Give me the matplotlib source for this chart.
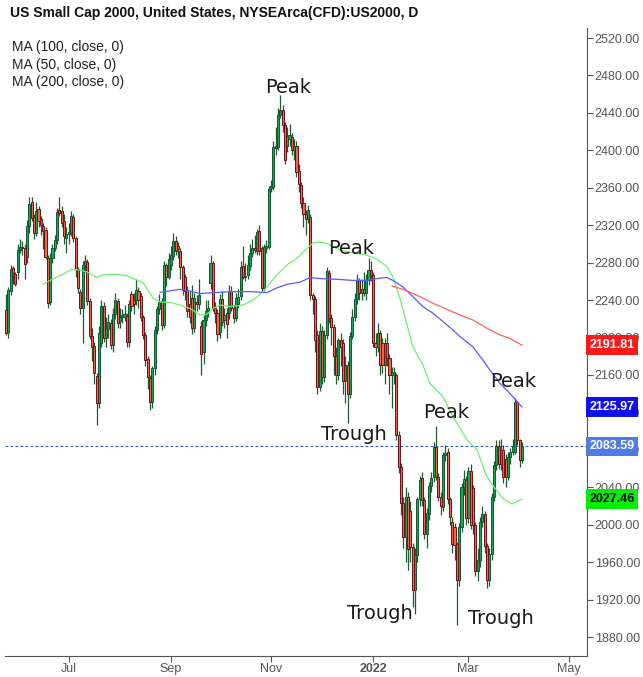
import matplotlib.pyplot as plt
import numpy as np

# daily candles, oldest first
opens = [
    2229, 2206, 2250, 2274, 2268, 2270, 2294, 2297, 2296, 2286,
    2319, 2345, 2329, 2312, 2337, 2327, 2319, 2315, 2285, 2238,
    2285, 2296, 2304, 2336, 2335, 2324, 2306, 2311, 2312, 2329,
    2306, 2273, 2249, 2231, 2278, 2281, 2239, 2202, 2191, 2159,
    2130, 2194, 2234, 2200, 2209, 2216, 2192, 2225, 2239, 2218,
    2222, 2222, 2223, 2195, 2247, 2240, 2240, 2250, 2244, 2222,
    2203, 2177, 2157, 2131, 2167, 2208, 2230, 2239, 2213, 2277,
    2265, 2277, 2287, 2303, 2298, 2292, 2275, 2265, 2251, 2236,
    2242, 2210, 2238, 2236, 2212, 2184, 2219, 2228, 2258, 2280,
    2232, 2226, 2206, 2241, 2219, 2226, 2226, 2250, 2232, 2221,
    2236, 2244, 2276, 2265, 2267, 2276, 2290, 2296, 2292, 2314,
    2296, 2253, 2296, 2297, 2360, 2361, 2405, 2404, 2438, 2443,
    2427, 2405, 2412, 2414, 2400, 2405, 2378, 2363, 2344, 2332,
    2327, 2329, 2245, 2241, 2203, 2147, 2207, 2158, 2203, 2269,
    2221, 2211, 2180, 2160, 2197, 2194, 2153, 2171, 2140, 2202,
    2222, 2241, 2261, 2248, 2252, 2248, 2261, 2272, 2267, 2194,
    2190, 2205, 2194, 2171, 2194, 2178, 2160, 2161, 2160, 2096,
    2062, 2023, 1987, 2030, 2015, 1976, 1930, 1968, 2027, 2050,
    2026, 1990, 2011, 2041, 2051, 2083, 2051, 2030, 2019, 2074,
    2078, 2027, 2003, 1998, 1979, 1941, 1998, 2040, 2048, 2007,
    2057, 2039, 2000, 1950, 1962, 2003, 2011, 1977, 1941, 1969,
    2030, 2064, 2084, 2065, 2080, 2070, 2051, 2072, 2078, 2078,
    2131, 2090, 2069,
]
highs = [
    2247, 2254, 2277, 2276, 2270, 2300, 2305, 2303, 2300, 2326,
    2350, 2350, 2332, 2345, 2340, 2330, 2322, 2318, 2288, 2290,
    2300, 2310, 2338, 2350, 2340, 2332, 2318, 2322, 2335, 2332,
    2308, 2275, 2252, 2282, 2288, 2284, 2242, 2210, 2195, 2162,
    2212, 2240, 2238, 2222, 2225, 2220, 2232, 2248, 2242, 2232,
    2230, 2235, 2226, 2240, 2250, 2248, 2262, 2254, 2248, 2224,
    2206, 2180, 2160, 2170, 2212, 2234, 2246, 2242, 2282, 2280,
    2290, 2298, 2312, 2308, 2302, 2296, 2278, 2268, 2255, 2250,
    2256, 2248, 2245, 2262, 2218, 2224, 2240, 2240, 2288, 2282,
    2238, 2230, 2246, 2250, 2232, 2232, 2256, 2255, 2235, 2248,
    2252, 2282, 2298, 2280, 2288, 2300, 2305, 2310, 2316, 2320,
    2298, 2300, 2304, 2362, 2368, 2410, 2425, 2445, 2459, 2448,
    2430, 2425, 2428, 2418, 2412, 2410, 2385, 2366, 2350, 2336,
    2342, 2332, 2248, 2244, 2208, 2215, 2212, 2208, 2275, 2272,
    2225, 2214, 2190, 2200, 2205, 2198, 2180, 2175, 2206, 2230,
    2248, 2268, 2264, 2262, 2270, 2268, 2285, 2282, 2270, 2205,
    2215, 2208, 2200, 2200, 2205, 2182, 2168, 2168, 2162, 2100,
    2066, 2030, 2040, 2035, 2025, 1980, 1975, 2030, 2052, 2056,
    2030, 2018, 2046, 2056, 2088, 2105, 2055, 2035, 2078, 2085,
    2082, 2030, 2008, 2002, 1982, 2002, 2045, 2058, 2052, 2062,
    2065, 2042, 2003, 1975, 2008, 2020, 2015, 1980, 1975, 2034,
    2068, 2090, 2090, 2092, 2085, 2075, 2078, 2082, 2092, 2135,
    2132, 2092, 2088,
]
lows = [
    2203, 2200, 2245, 2257, 2255, 2262, 2290, 2288, 2262, 2280,
    2312, 2325, 2305, 2308, 2318, 2310, 2295, 2284, 2232, 2235,
    2280, 2292, 2300, 2330, 2318, 2300, 2290, 2300, 2308, 2302,
    2265, 2248, 2225, 2194, 2270, 2235, 2198, 2175, 2150, 2106,
    2125, 2190, 2195, 2190, 2200, 2188, 2185, 2220, 2210, 2210,
    2215, 2218, 2190, 2190, 2228, 2225, 2235, 2232, 2218, 2198,
    2170, 2145, 2123, 2125, 2160, 2204, 2225, 2208, 2210, 2255,
    2262, 2272, 2283, 2288, 2285, 2262, 2245, 2240, 2222, 2215,
    2204, 2206, 2228, 2230, 2160, 2172, 2212, 2222, 2252, 2228,
    2215, 2196, 2200, 2212, 2210, 2200, 2220, 2228, 2215, 2218,
    2232, 2240, 2262, 2260, 2262, 2272, 2286, 2290, 2288, 2288,
    2250, 2250, 2290, 2295, 2355, 2358, 2395, 2400, 2435, 2420,
    2385, 2398, 2405, 2395, 2390, 2372, 2355, 2338, 2318, 2310,
    2322, 2240, 2225, 2185, 2140, 2143, 2150, 2152, 2198, 2215,
    2192, 2160, 2150, 2155, 2170, 2140, 2130, 2109, 2135, 2198,
    2218, 2236, 2240, 2240, 2244, 2240, 2256, 2260, 2190, 2180,
    2185, 2160, 2162, 2150, 2170, 2140, 2125, 2150, 2090, 2055,
    2010, 1975, 1960, 1952, 1960, 1912, 1905, 1960, 2020, 2020,
    1985, 1975, 2005, 2035, 2046, 2048, 2025, 2010, 2015, 2068,
    2022, 2000, 1970, 1962, 1893, 1935, 1992, 2032, 2000, 2002,
    1995, 1990, 1945, 1940, 1955, 1998, 1970, 1932, 1935, 1962,
    2025, 2058, 2060, 2058, 2045, 2040, 2048, 2065, 2074, 2075,
    2085, 2062, 2066,
]
closes = [
    2205, 2251, 2273, 2269, 2257, 2294, 2297, 2296, 2279, 2319,
    2343, 2328, 2312, 2335, 2325, 2320, 2314, 2286, 2237, 2285,
    2296, 2304, 2334, 2333, 2322, 2308, 2311, 2313, 2330, 2306,
    2273, 2253, 2231, 2278, 2282, 2239, 2202, 2190, 2162, 2130,
    2205, 2234, 2199, 2210, 2217, 2192, 2225, 2240, 2215, 2222,
    2224, 2225, 2195, 2236, 2234, 2236, 2251, 2240, 2222, 2203,
    2176, 2158, 2131, 2167, 2208, 2230, 2238, 2213, 2277, 2265,
    2284, 2288, 2303, 2292, 2295, 2275, 2251, 2250, 2228, 2222,
    2210, 2242, 2236, 2245, 2182, 2219, 2228, 2232, 2280, 2232,
    2226, 2204, 2241, 2217, 2224, 2214, 2250, 2232, 2221, 2242,
    2243, 2275, 2265, 2266, 2277, 2290, 2296, 2294, 2313, 2292,
    2253, 2297, 2298, 2359, 2362, 2404, 2402, 2438, 2443, 2427,
    2390, 2415, 2416, 2400, 2405, 2377, 2364, 2344, 2332, 2327,
    2336, 2245, 2241, 2197, 2147, 2207, 2158, 2203, 2271, 2221,
    2211, 2180, 2160, 2197, 2190, 2153, 2171, 2140, 2202, 2222,
    2241, 2261, 2248, 2252, 2248, 2261, 2272, 2267, 2194, 2190,
    2205, 2171, 2171, 2194, 2178, 2160, 2163, 2163, 2096, 2062,
    2023, 1987, 2030, 1974, 1976, 1930, 1968, 2027, 2048, 2026,
    1990, 2012, 2041, 2050, 2083, 2051, 2030, 2020, 2074, 2077,
    2027, 2008, 1979, 1978, 1941, 1998, 2040, 2049, 2007, 2057,
    2000, 2000, 1950, 1962, 2003, 2011, 1977, 1941, 1969, 2030,
    2064, 2084, 2065, 2080, 2051, 2051, 2072, 2078, 2084, 2131,
    2090, 2069, 2083.59,
]

# moving averages, sampled from the chart (bar index, value)
ma50_x = [15.9, 20.2, 24.5, 28.4, 31.8, 34.9, 39.2, 41.7, 47.8, 52.1, 54.6, 59.0, 63.3,
          66.3, 70.6, 74.9, 79.2, 83.5, 86.5, 89.1, 92.1, 96.4, 102.0, 106.3, 110.6,
          113.6, 116.6, 120.9, 125.2, 129.5, 132.1, 135.1, 138.1, 143.7, 149.3, 155.3,
          159.6, 163.9, 166.5, 169.5, 175.1, 179.4, 182.4, 188.0, 192.3, 198.4, 202.7,
          206.9, 210.4, 213.9, 217.7, 222]
ma50_v = [2257, 2262.5, 2267.5, 2273, 2272, 2270, 2264, 2267, 2267.5, 2266, 2263, 2258.6,
          2242, 2238, 2237.5, 2234.7, 2231, 2224, 2225, 2231, 2234.7, 2233, 2234.7, 2240,
          2249, 2258, 2267, 2277.5, 2284.6, 2295, 2301, 2302, 2300.6, 2293.5, 2290.6,
          2288, 2283.6, 2275.7, 2265, 2242, 2190, 2170.6, 2151, 2137, 2115.4, 2090.5,
          2080, 2051.3, 2039, 2028, 2022, 2027.46]
ma100_x = [66.3, 74.9, 79.2, 83.5, 92.1, 96.4, 105.0, 112.3, 116.6, 120.9, 126.5, 130.8,
           135.1, 143.7, 149.3, 155.3, 160.9, 163.9, 166.5, 170.8, 175.1, 179.4, 183.7,
           189.8, 195.4, 200.9, 205.2, 208.3, 212.6, 216.9, 222]
ma100_v = [2248.3, 2251.5, 2249.7, 2247, 2248.3, 2249, 2249, 2248, 2253, 2256.8, 2259,
           2264, 2263, 2262, 2261, 2261, 2263.5, 2264, 2261, 2254, 2243.6, 2233, 2226,
           2213.4, 2201, 2190, 2176, 2165, 2151, 2140, 2125.97]
ma200_x = [166.1, 170.8, 175.1, 179.4, 183.7, 189.8, 195.4, 200.9, 207.0, 212.6, 216.9, 222]
ma200_v = [2255, 2251.5, 2247, 2242, 2236.6, 2230, 2224, 2218.7, 2209.8, 2202.7, 2199, 2191.81]

tick_pos = [27.1, 71.0, 114.0, 157.9, 198.8, 242.3]
tick_lbl = ["Jul", "Sep", "Nov", "2022", "Mar", "May"]

notes = [("Peak", 121.3, 2467.6), ("Peak", 148.5, 2295.6), ("Trough", 149.7, 2095.9),
         ("Peak", 189.3, 2119.4), ("Peak", 218.2, 2153.5), ("Trough", 160.9, 1904.6),
         ("Trough", 213.0, 1899.3)]

plt.rcParams['font.family'] = ['Liberation Sans', 'DejaVu Sans']

fig = plt.figure(figsize=(6.43, 6.77), dpi=100)
ax = fig.add_axes([5 / 643, 21 / 677, 582 / 643, 628 / 677])

o = np.array(opens, float)
h = np.array(highs, float)
l = np.array(lows, float)
c = np.array(closes, float)
x = np.arange(len(c))
up = c >= o

ax.vlines(x, l, h, color='#1f5a34', lw=0.9, zorder=2)
body = np.maximum(np.abs(c - o), 0.8)
ax.bar(x[up], body[up], bottom=np.minimum(o, c)[up], width=0.9,
       color='#12a85c', edgecolor='#0e5a2e', linewidth=0.7, zorder=3)
ax.bar(x[~up], body[~up], bottom=np.minimum(o, c)[~up], width=0.9,
       color='#f2624f', edgecolor='#6e1212', linewidth=0.7, zorder=3)

ax.plot(ma50_x, ma50_v, color='#6cf06c', lw=0.9, zorder=4)
ax.plot(ma100_x, ma100_v, color='#5a5aff', lw=0.9, zorder=4)
ax.plot(ma200_x, ma200_v, color='#ff6060', lw=0.9, zorder=4)

ax.axhline(c[-1], color='#3b5bdb', lw=0.8, ls=(0, (2.5, 2)), zorder=1)

for txt, xi, yi in notes:
    ax.text(xi, yi, txt, fontsize=14, family='DejaVu Sans', color='#1a1a1a',
            ha='center', va='center', zorder=5)

ax.set_xlim(-0.43, 250.0)
ax.set_ylim(1859.7, 2530.7)

ax.yaxis.tick_right()
yt = np.arange(1880, 2521, 40)
ax.set_yticks(yt)
ax.set_yticklabels([f"{v:.2f}" for v in yt])
ax.set_xticks(tick_pos)
ax.set_xticklabels(tick_lbl)
ax.get_xticklabels()[3].set_fontweight('bold')
ax.tick_params(axis='y', colors='#555555', labelsize=9, length=4, pad=1.5)
ax.tick_params(axis='x', colors='#555555', labelsize=9, length=4, pad=1)

for side in ['top', 'left']:
    ax.spines[side].set_visible(False)
for side in ['right', 'bottom']:
    ax.spines[side].set_color('#555555')

# price tags on the right scale
tags = [(ma200_v[-1], '#ff1a1a', 'white'), (ma100_v[-1], '#1010ee', 'white'),
        (c[-1], '#4f7be8', 'white'), (ma50_v[-1], '#00ee00', 'black')]
for val, fc, tc in tags:
    ax.text(1.004, val, f"{val:.2f}", transform=ax.get_yaxis_transform(),
            fontsize=9, fontweight='bold', color=tc, ha='left', va='center',
            bbox=dict(boxstyle='square,pad=0.3', fc=fc, ec='none'),
            clip_on=False, zorder=6)

fig.text(10 / 643, 1 - 13 / 677, "US Small Cap 2000, United States, NYSEArca(CFD):US2000, D",
         fontsize=10, fontweight='bold', color='#111111', va='center')
for i, lbl in enumerate(["MA (100, close, 0)", "MA (50, close, 0)", "MA (200, close, 0)"]):
    fig.text(12 / 643, 1 - (47 + 17.5 * i) / 677, lbl, fontsize=10, color='#222222', va='center')

fig.savefig("out.png", dpi=100)
